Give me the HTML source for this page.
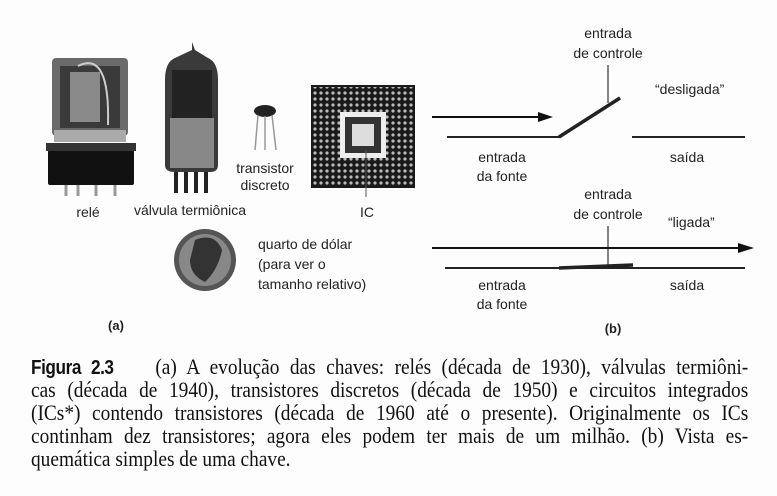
<!DOCTYPE html>
<html><head><meta charset="utf-8"><style>
body{margin:0;background:#fff;}
#c{position:relative;width:777px;height:496px;overflow:hidden;background:#fdfdfd;}
svg{position:absolute;left:0;top:0;}
.cap{position:absolute;left:31px;width:834px;transform:scaleX(0.86);transform-origin:0 0;font-family:"Liberation Serif",serif;font-size:22.5px;color:#111;text-align:justify;text-align-last:justify;white-space:nowrap;line-height:22px;}
.cap b{font-family:"Liberation Sans",sans-serif;font-weight:bold;letter-spacing:-0.5px;font-size:20px;}
</style></head><body><div id="c">
<svg width="777" height="496" font-family="Liberation Sans, sans-serif" font-size="14" fill="#222">
<!-- relay -->
<rect x="52" y="58" width="76" height="78" rx="4" fill="#6a6a6a"/>
<rect x="60" y="66" width="60" height="62" fill="#3a3a3a"/>
<rect x="70" y="72" width="30" height="50" fill="#8a8a8a"/>
<path d="M78 66 Q110 50 108 125" stroke="#ccc" stroke-width="2" fill="none"/>
<rect x="54" y="130" width="72" height="12" fill="#aaa"/>
<rect x="48" y="150" width="86" height="35" rx="2" fill="#111"/>
<rect x="46" y="143" width="90" height="8" fill="#333"/>
<g stroke="#999" stroke-width="3"><line x1="66" y1="185" x2="66" y2="196"/><line x1="78" y1="185" x2="78" y2="196"/><line x1="96" y1="185" x2="96" y2="196"/><line x1="115" y1="185" x2="115" y2="196"/></g>
<!-- tube -->
<path d="M192 42 L192 50 L175 58 Q165 62 165 80 L165 165 Q165 172 175 172 L210 172 Q218 172 218 165 L218 80 Q218 62 208 58 L195 50 Z" fill="#3a3a3a"/>
<rect x="170" y="118" width="44" height="50" fill="#888"/>
<rect x="172" y="70" width="40" height="48" fill="#222"/>
<g stroke="#222" stroke-width="4"><line x1="176" y1="172" x2="176" y2="193"/><line x1="186" y1="172" x2="186" y2="193"/><line x1="196" y1="172" x2="196" y2="193"/><line x1="206" y1="172" x2="206" y2="193"/></g>
<!-- transistor -->
<ellipse cx="265" cy="111" rx="11" ry="6" fill="#222"/>
<g stroke="#999" stroke-width="1.5"><line x1="258" y1="115" x2="255" y2="150"/><line x1="265" y1="116" x2="265" y2="150"/><line x1="272" y1="115" x2="276" y2="150"/></g>
<text x="265" y="173" text-anchor="middle">transistor</text>
<text x="265" y="190" text-anchor="middle">discreto</text>
<!-- IC -->
<rect x="311" y="85" width="104" height="103" fill="#1a1a1a"/>
<pattern id="p" width="6" height="6" patternUnits="userSpaceOnUse"><circle cx="3" cy="3" r="1.6" fill="#bbb"/></pattern>
<rect x="313" y="87" width="100" height="99" fill="url(#p)"/>
<rect x="340" y="112" width="46" height="46" fill="#eee"/>
<rect x="345" y="117" width="36" height="36" fill="#333"/>
<rect x="352" y="124" width="22" height="22" fill="#ddd"/>
<line x1="366" y1="150" x2="366" y2="197" stroke="#555"/>
<text x="367" y="217" text-anchor="middle">IC</text>
<text x="88" y="217" text-anchor="middle">relé</text>
<text x="190" y="215" text-anchor="middle">válvula termiônica</text>
<!-- coin -->
<circle cx="205" cy="260" r="31" fill="#555"/>
<circle cx="205" cy="260" r="26" fill="#888"/>
<path d="M195 240 Q215 232 222 250 Q218 270 205 282 Q190 275 190 260 Z" fill="#333"/>
<text x="258" y="249">quarto de dólar</text>
<text x="258" y="269">(para ver o</text>
<text x="258" y="289">tamanho relativo)</text>
<text x="116" y="330" text-anchor="middle" font-weight="bold" font-size="13">(a)</text>
<!-- switch off -->
<text x="608" y="38" text-anchor="middle">entrada</text>
<text x="608" y="58" text-anchor="middle">de controle</text>
<line x1="608" y1="65" x2="608" y2="103" stroke="#333" stroke-width="1.2"/>
<text x="655" y="94">“desligada”</text>
<line x1="432" y1="117" x2="540" y2="117" stroke="#111" stroke-width="2"/>
<polygon points="553,117 538,112 538,122" fill="#111"/>
<polyline points="447,137 559,137 620,98" stroke="#222" stroke-width="2" fill="none"/>
<line x1="559" y1="137" x2="620" y2="98" stroke="#222" stroke-width="3.5"/>
<line x1="632" y1="137" x2="745" y2="137" stroke="#222" stroke-width="2"/>
<text x="502" y="162" text-anchor="middle">entrada</text>
<text x="502" y="181" text-anchor="middle">da fonte</text>
<text x="687" y="162" text-anchor="middle">saída</text>
<!-- switch on -->
<text x="608" y="199" text-anchor="middle">entrada</text>
<text x="608" y="219" text-anchor="middle">de controle</text>
<line x1="608" y1="226" x2="608" y2="266" stroke="#333" stroke-width="1.2"/>
<text x="668" y="227">“ligada”</text>
<line x1="432" y1="248" x2="740" y2="248" stroke="#111" stroke-width="2"/>
<polygon points="754,248 738,243 738,253" fill="#111"/>
<line x1="445" y1="268" x2="745" y2="268" stroke="#222" stroke-width="2"/>
<line x1="559" y1="268" x2="633" y2="265" stroke="#222" stroke-width="3.5"/>
<text x="502" y="290" text-anchor="middle">entrada</text>
<text x="502" y="309" text-anchor="middle">da fonte</text>
<text x="687" y="290" text-anchor="middle">saída</text>
<text x="613" y="333" text-anchor="middle" font-weight="bold" font-size="13">(b)</text>
</svg>
<div class="cap" style="top:356px"><b>Figura 2.3</b>&nbsp;&nbsp;&nbsp; (a) A evolução das chaves: relés (década de 1930), válvulas termiôni-</div>
<div class="cap" style="top:379px">cas (década de 1940), transistores discretos (década de 1950) e circuitos integrados</div>
<div class="cap" style="top:402px">(ICs*) contendo transistores (década de 1960 até o presente). Originalmente os ICs</div>
<div class="cap" style="top:425px">continham dez transistores; agora eles podem ter mais de um milhão. (b) Vista es-</div>
<div class="cap" style="top:448px;text-align-last:left">quemática simples de uma chave.</div>
</div></body></html>
